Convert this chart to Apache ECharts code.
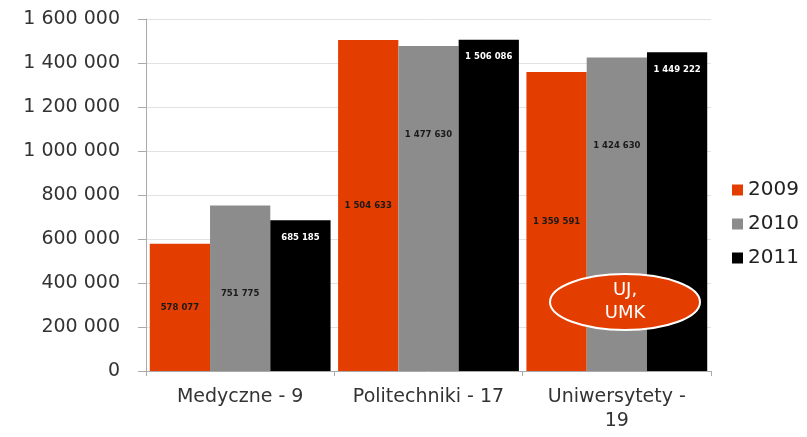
<!DOCTYPE html>
<html>
<head>
<meta charset="utf-8">
<script src="https://cdn.jsdelivr.net/npm/echarts@6/dist/echarts.min.js"></script>
<style>
  html, body { margin: 0; padding: 0; background: #fff; }
  #chart { width: 807px; height: 437px; }
</style>
</head>
<body>
<div id="chart"></div>
<script>
// dane
const categories = ['Medyczne - 9', 'Politechniki - 17', 'Uniwersytety -\n19'];
const years = ['2009', '2010', '2011'];
const values2009 = [578077, 1504633, 1359591];
const values2010 = [751775, 1477630, 1424630];
const values2011 = [685185, 1506086, 1449222];
const yTicks = [0, 200000, 400000, 600000, 800000, 1000000, 1200000, 1400000, 1600000];

const colors = ['#e43d00', '#8c8c8c', '#000000'];

// 1 504 633
function fmt(v) {
  return String(v).replace(/\B(?=(\d{3})+(?!\d))/g, ' ');
}

const chart = echarts.init(document.getElementById('chart'));

const labelBase = {
  show: true,
  fontFamily: 'DejaVu Sans',
  fontWeight: 'bold',
  fontSize: 8.5,
  formatter: p => fmt(p.value)
};

chart.setOption({
  animation: false,
  backgroundColor: '#fff',
  grid: { left: 146, right: 96, top: 19, bottom: 66 },
  legend: {
    orient: 'vertical',
    left: 727,
    top: 175,
    itemWidth: 11,
    itemHeight: 11,
    itemGap: 14,
    icon: 'rect',
    data: years,
    textStyle: { fontFamily: 'DejaVu Sans', fontSize: 20, color: '#222' }
  },
  xAxis: {
    type: 'category',
    data: categories,
    axisLine: { lineStyle: { color: '#aaa' } },
    axisTick: { show: true, interval: 0, length: 5, lineStyle: { color: '#aaa' } },
    axisLabel: {
      interval: 0, hideOverlap: false,
      fontFamily: 'DejaVu Sans', fontSize: 19, color: '#333', margin: 14, lineHeight: 24
    }
  },
  yAxis: {
    type: 'value',
    min: yTicks[0],
    max: yTicks[yTicks.length - 1],
    interval: 200000,
    axisLine: { show: true, lineStyle: { color: '#aaa' } },
    axisTick: { show: true, inside: false, length: 8, lineStyle: { color: '#aaa' } },
    splitLine: { lineStyle: { color: '#e2e2e2' } },
    axisLabel: {
      fontFamily: 'DejaVu Sans', fontSize: 19, color: '#333', margin: 26,
      formatter: v => fmt(v)
    }
  },
  series: [
    {
      name: years[0], type: 'bar', data: values2009,
      itemStyle: { color: colors[0] },
      barGap: '0%', barCategoryGap: '4%',
      label: Object.assign({}, labelBase, { position: 'inside', color: '#1a1a1a' })
    },
    {
      name: years[1], type: 'bar', data: values2010,
      itemStyle: { color: colors[1] },
      label: Object.assign({}, labelBase, { position: 'insideTop', distance: 84, color: '#1a1a1a' })
    },
    {
      name: years[2], type: 'bar', data: values2011,
      itemStyle: { color: colors[2] },
      label: Object.assign({}, labelBase, { position: 'insideTop', distance: 13, color: '#fff' })
    }
  ],
  graphic: [
    {
      type: 'ellipse',
      shape: { cx: 625, cy: 302, rx: 75, ry: 28 },
      style: { fill: '#e43d00', stroke: '#fff', lineWidth: 2 },
      z: 100
    },
    {
      type: 'text',
      x: 625, y: 302,
      style: {
        text: 'UJ,\nUMK',
        fill: '#fff',
        fontFamily: 'DejaVu Sans',
        fontSize: 18,
        lineHeight: 23,
        align: 'center',
        verticalAlign: 'middle'
      },
      z: 101
    }
  ]
});
</script>
</body>
</html>
